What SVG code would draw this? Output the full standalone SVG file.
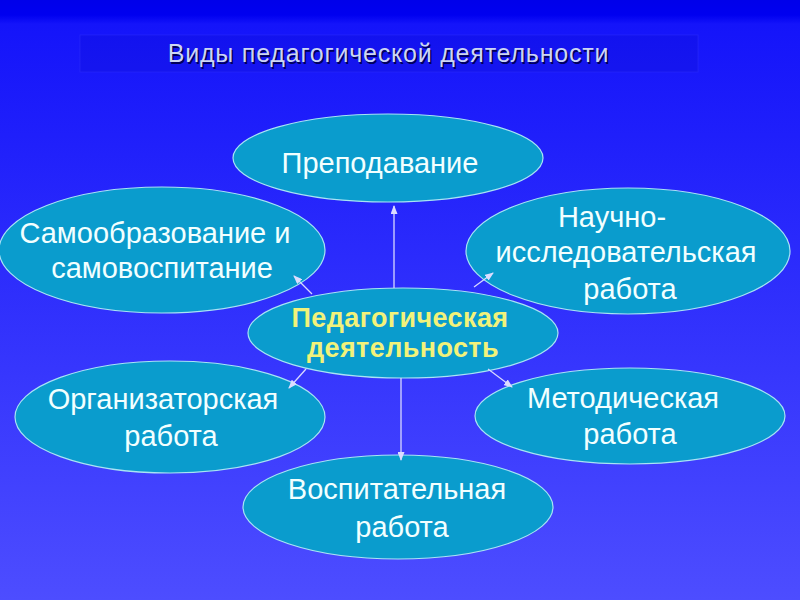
<svg xmlns="http://www.w3.org/2000/svg" width="800" height="600" viewBox="0 0 800 600">
  <defs>
    <linearGradient id="bg" x1="0" y1="0" x2="0" y2="1">
      <stop offset="0" stop-color="#0000ea"/>
      <stop offset="0.025" stop-color="#0000f0"/>
      <stop offset="0.04" stop-color="#1414fa"/>
      <stop offset="1" stop-color="#4d4dff"/>
    </linearGradient>
    <marker id="ah" markerWidth="9" markerHeight="7" refX="8" refY="3.5" orient="auto" markerUnits="userSpaceOnUse">
      <path d="M0,0 L9,3.5 L0,7 z" fill="#dcdcff"/>
    </marker>
    <style>
      .node { fill: #0a9ccd; stroke: #a8e4f4; stroke-width: 1.2; }
      .lbl { font-family: "Liberation Sans", Arial, sans-serif; font-size: 29px; fill: #f2ffff; text-anchor: middle; }
      .ctr { font-family: "Liberation Sans", Arial, sans-serif; font-size: 27px; font-weight: bold; fill: #f2f27a; text-anchor: middle; letter-spacing: 0.4px; }
      .conn line { stroke: #d8d8ff; stroke-width: 1.3; marker-end: url(#ah); }
      .title { font-family: "Liberation Sans", Arial, sans-serif; font-size: 25px; text-anchor: middle; letter-spacing: 0.8px; }
    </style>
  </defs>

  <rect x="0" y="0" width="800" height="600" fill="url(#bg)"/>

  <g id="title">
    <rect x="80" y="35" width="618" height="37" fill="#0a0ad0" fill-opacity="0.25" stroke="#3a3aff" stroke-opacity="0.35" stroke-width="1"/>
    <text class="title" x="390" y="63.5" fill="#00005a">Виды педагогической  деятельности</text>
    <text class="title" x="388.5" y="62" fill="#cdd6f2">Виды педагогической  деятельности</text>
  </g>

  <g id="n-prepodavanie">
    <ellipse class="node" cx="388" cy="158" rx="155" ry="44"/>
    <text class="lbl" x="380" y="173">Преподавание</text>
  </g>

  <g id="n-samoobrazovanie">
    <ellipse class="node" cx="162" cy="250" rx="163" ry="63"/>
    <text class="lbl" x="155" y="243">Самообразование  и</text>
    <text class="lbl" x="162" y="278">самовоспитание</text>
  </g>

  <g id="n-nauchno">
    <ellipse class="node" cx="628" cy="251" rx="162" ry="63"/>
    <text class="lbl" x="612" y="227">Научно-</text>
    <text class="lbl" x="626" y="262">исследовательская</text>
    <text class="lbl" x="630" y="299">работа</text>
  </g>

  <g id="n-center">
    <ellipse class="node" cx="403" cy="333" rx="155" ry="45"/>
    <text class="ctr" x="400" y="327">Педагогическая</text>
    <text class="ctr" x="403" y="357">деятельность</text>
  </g>

  <g id="n-organizatorskaya">
    <ellipse class="node" cx="170" cy="417" rx="155" ry="56"/>
    <text class="lbl" x="163" y="409">Организаторская</text>
    <text class="lbl" x="171" y="446">работа</text>
  </g>

  <g id="n-metodicheskaya">
    <ellipse class="node" cx="630" cy="416" rx="155" ry="48"/>
    <text class="lbl" x="623" y="408">Методическая</text>
    <text class="lbl" x="630" y="444">работа</text>
  </g>

  <g id="n-vospitatelnaya">
    <ellipse class="node" cx="398" cy="507" rx="155" ry="52"/>
    <text class="lbl" x="397" y="499">Воспитательная</text>
    <text class="lbl" x="402" y="537">работа</text>
  </g>

  <g id="connectors" class="conn">
    <line x1="394" y1="288" x2="394" y2="206"/>
    <line x1="312" y1="294" x2="294" y2="276"/>
    <line x1="474" y1="287" x2="493" y2="273"/>
    <line x1="306" y1="369" x2="289" y2="388"/>
    <line x1="488" y1="369" x2="512" y2="387"/>
    <line x1="401" y1="378" x2="401" y2="460"/>
  </g>
</svg>
